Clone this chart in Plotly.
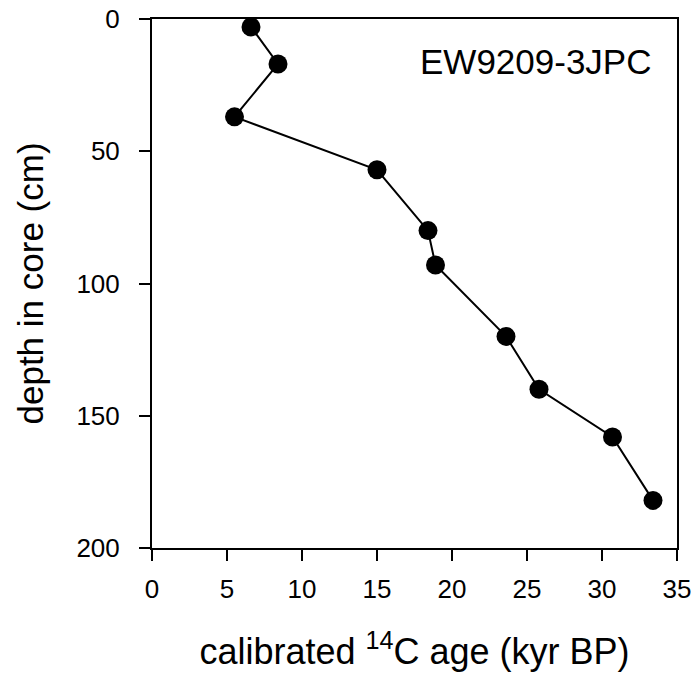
import plotly.graph_objects as go

age_kyr = [6.6, 8.4, 5.5, 15.0, 18.4, 18.9, 23.6, 25.8, 30.7, 33.4]
depth_cm = [3, 17, 37, 57, 80, 93, 120, 140, 158, 182]
x_ticks = [0, 5, 10, 15, 20, 25, 30, 35]
y_ticks = [0, 50, 100, 150, 200]
core_label = "EW9209-3JPC"

FONT = "Liberation Sans, Arial, sans-serif"

fig = go.Figure()
fig.add_trace(go.Scatter(
    x=age_kyr, y=depth_cm, mode="lines+markers",
    line=dict(color="black", width=2),
    marker=dict(color="black", size=19),
    showlegend=False,
))

fig.update_layout(
    width=698, height=673,
    margin=dict(l=152, r=21, t=19, b=125),
    paper_bgcolor="white", plot_bgcolor="white",
    font=dict(family=FONT, color="black"),
)
fig.update_xaxes(
    range=[0, 35], tickvals=x_ticks, ticktext=[str(v) for v in x_ticks],
    automargin=False,
    showgrid=False, zeroline=False,
    showline=True, linecolor="black", linewidth=2, mirror=True,
    ticks="outside", ticklen=11, tickwidth=2, tickcolor="black",
    tickfont=dict(size=26, family=FONT, color="black"),
    ticklabelstandoff=6,
    title=dict(text="calibrated <sup>14</sup>C age (kyr BP)",
               font=dict(size=36, family=FONT, color="black"), standoff=36),
)
fig.update_yaxes(
    range=[200, 0], tickvals=y_ticks, ticktext=[str(v) for v in y_ticks],
    automargin=False,
    showgrid=False, zeroline=False,
    showline=True, linecolor="black", linewidth=2, mirror=True,
    ticks="outside", ticklen=11, tickwidth=2, tickcolor="black",
    tickfont=dict(size=26, family=FONT, color="black"),
    ticklabelstandoff=14,
    title=dict(text="depth in core (cm)",
               font=dict(size=35, family=FONT, color="black"), standoff=22),
)
fig.add_annotation(
    text=core_label, xref="paper", yref="paper",
    x=0.955, y=0.919, xanchor="right", yanchor="middle",
    showarrow=False, font=dict(size=35, family=FONT, color="black"),
)

fig.write_html("out.html")
